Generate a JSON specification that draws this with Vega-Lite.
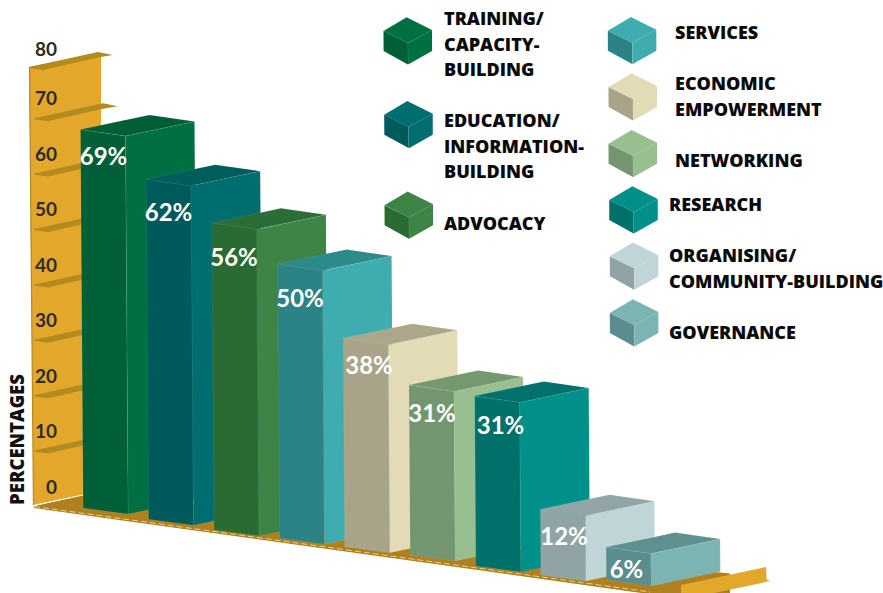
{
"$schema":"https://vega.github.io/schema/vega-lite/v6.json",
"width":883,"height":593,"padding":0,"autosize":{"type":"none"},
"background":"#ffffff",
"config":{"view":{"stroke":null}},
"datasets":{
"bars":[
{"category":"TRAINING/\nCAPACITY-\nBUILDING","value":69,"order":0},
{"category":"EDUCATION/\nINFORMATION-\nBUILDING","value":62,"order":1},
{"category":"ADVOCACY","value":56,"order":2},
{"category":"SERVICES","value":50,"order":3},
{"category":"ECONOMIC\nEMPOWERMENT","value":38,"order":4},
{"category":"NETWORKING","value":31,"order":5},
{"category":"RESEARCH","value":31,"order":6},
{"category":"ORGANISING/\nCOMMUNITY-BUILDING","value":12,"order":7},
{"category":"GOVERNANCE","value":6,"order":8}
],
"ticks":[{"tick":0},{"tick":10},{"tick":20},{"tick":30},{"tick":40},{"tick":50},{"tick":60},{"tick":70},{"tick":80}],
"pair":[{"part":"segment"}]
},
"encoding":{
"x":{"field":"x","type":"quantitative","scale":{"domain":[0,883],"nice":false,"zero":false},"axis":null},
"y":{"field":"y","type":"quantitative","scale":{"domain":[593,0],"nice":false,"zero":false},"axis":null,"stack":null}
},
"layer":[
{"data":{"name":"pair"},
"transform":[{"calculate":"[0,1,2]","as":"t"},{"flatten":["t"]},
{"calculate":"[29.3,33.5,101][datum.t]","as":"x"},{"calculate":"[67,66,53][datum.t]","as":"y"},{"calculate":"[67,505,491][datum.t]","as":"y2"}],
"mark":{"type":"area","color":"#E3A82B","orient":"vertical"},
"encoding":{"y2":{"field":"y2"}}},
{"data":{"name":"pair"},
"transform":[{"calculate":"[0,1]","as":"t"},{"flatten":["t"]},
{"calculate":"[29.5,33.5][datum.t]","as":"x"},{"calculate":"[67,505][datum.t]","as":"y"}],
"mark":{"type":"line","color":"#B38A1E","strokeWidth":1.2},"encoding":{}},
{"data":{"name":"ticks"},
"transform":[{"filter":"datum.tick>0"},
{"calculate":"datum.tick==80?29:34","as":"x0"},{"calculate":"datum.tick==80?67:506-5.54*datum.tick","as":"y0"},
{"calculate":"[0,1,2,3]","as":"t"},{"flatten":["t"]},
{"calculate":"datum.x0+[0,14,69,83.7][datum.t]","as":"x"},
{"calculate":"datum.y0+[0,-3,-15,-12][datum.t]","as":"y"},
{"calculate":"datum.y0+[1,3,-9.5,-12][datum.t]","as":"y2"}],
"mark":{"type":"area","color":"#B38A1E","orient":"vertical"},
"encoding":{"y2":{"field":"y2"},"detail":{"field":"tick"}}},
{"data":{"name":"pair"},
"transform":[{"calculate":"[0,1,2,3]","as":"t"},{"flatten":["t"]},
{"calculate":"[34,101,600,730][datum.t]","as":"x"},{"calculate":"[506,491,560,573.5][datum.t]","as":"y"},{"calculate":"[508,517.4,587.2,605.4][datum.t]","as":"y2"}],
"mark":{"type":"area","color":"#B0801E","orient":"vertical","clip":true},
"encoding":{"y2":{"field":"y2"}}},
{"data":{"name":"pair"},
"transform":[{"calculate":"[0,1,2,3]","as":"t"},{"flatten":["t"]},
{"calculate":"[681,766,766.5,770][datum.t]","as":"x"},{"calculate":"[585,567,579,581][datum.t]","as":"y"},{"calculate":"[600,582,581.5,581][datum.t]","as":"y2"}],
"mark":{"type":"area","color":"#E3A82B","orient":"vertical","clip":true},
"encoding":{"y2":{"field":"y2"}}},
{"data":{"name":"pair"},
"transform":[{"calculate":"[0,1]","as":"t"},{"flatten":["t"]},
{"calculate":"[34,650][datum.t]","as":"x"},{"calculate":"[506.5,592][datum.t]","as":"y"}],
"mark":{"type":"line","color":"#EBD9A8","strokeWidth":0.9,"strokeDash":[6,3]},"encoding":{}},
{"data":{"name":"pair"},
"transform":[{"calculate":"[0,1]","as":"t"},{"flatten":["t"]},
{"calculate":"[34,83][datum.t]","as":"x"},{"calculate":"[505.5,495][datum.t]","as":"y"}],
"mark":{"type":"line","color":"#ffffff","strokeWidth":1},"encoding":{}},
{"data":{"name":"bars"},
"transform":[
{"calculate":"80.5+65.7*datum.order","as":"xA"},
{"calculate":"5.485*datum.value","as":"h"},
{"calculate":"[508,519.3,530,538.3,546.7,555,566,575,580][datum.order]","as":"base"},
{"calculate":"datum.base-datum.h","as":"yA"},
{"calculate":"0.0071*datum.h","as":"dx"},
{"calculate":"[0,1,2]","as":"face"},{"flatten":["face"]},
{"calculate":"[0,1,2,3]","as":"t"},{"flatten":["t"]},
{"calculate":"datum.face==0?[datum.xA,datum.xA+datum.dx,datum.xA+45,datum.xA+45+datum.dx][datum.t]:datum.face==1?[datum.xA+45,datum.xA+45+datum.dx,datum.xA+114,datum.xA+114+datum.dx][datum.t]:datum.xA+[0,45,69,114][datum.t]","as":"x"},
{"calculate":"datum.face==0?[datum.yA,datum.yA+6.5*datum.dx/45,datum.yA+6.5,datum.base+6][datum.t]:datum.face==1?[datum.yA+6.5,datum.yA+6.5-14.5*datum.dx/69,datum.yA-8,datum.base-8.5][datum.t]:datum.yA+[0,-9.46,-14.5,-8][datum.t]","as":"y"},
{"calculate":"datum.face==0?[datum.yA,datum.base,datum.base+6*(45-datum.dx)/45,datum.base+6][datum.t]:datum.face==1?[datum.yA+6.5,datum.base+6,datum.base+6-14.5*(69-datum.dx)/69,datum.base-8.5][datum.t]:datum.yA+[0,6.5,1.46,-8][datum.t]","as":"y2"},
{"calculate":"datum.order+'-'+datum.face","as":"shade"}
],
"mark":{"type":"area","orient":"vertical","stroke":"#ffffff","strokeOpacity":0.12,"strokeWidth":0.6},
"encoding":{"y2":{"field":"y2"},
"color":{"field":"shade","type":"nominal","legend":null,
"scale":{"domain":["0-0","0-1","0-2","1-0","1-1","1-2","2-0","2-1","2-2","3-0","3-1","3-2","4-0","4-1","4-2","5-0","5-1","5-2","6-0","6-1","6-2","7-0","7-1","7-2","8-0","8-1","8-2"],
"range":["#005F37","#006F42","#005E36","#005A5C","#006D6E","#005E5A","#2A6B33","#3D8446","#2B6D36","#2B8385","#3FADB0","#2C8A8A","#A9A489","#E2DBB5","#ACA78A","#739570","#98BF90","#76986F","#00706B","#00908A","#00716C","#90A4A6","#BFD5D7","#91A5A7","#5C8D8E","#7CB4B4","#5F9090"]}}}},
{"data":{"name":"bars"},
"transform":[
{"calculate":"[408,408.7,409,632.3,633,633,633.7,634.3,634.3][datum.order]","as":"cx"},
{"calculate":"[43,126.7,217.3,42.7,99,155.7,212,268.3,325][datum.order]","as":"cy"},
{"calculate":"[0,1,2]","as":"face"},{"flatten":["face"]},
{"calculate":"[0,1,2,3]","as":"t"},{"flatten":["t"]},
{"calculate":"datum.cx+(datum.face==0?[-24.5,-24.4,-0.1,0][datum.t]:datum.face==1?[0,0.1,24,24.1][datum.t]:[-24.5,-1.3,0,24.1][datum.t])","as":"x"},
{"calculate":"datum.cy+(datum.face==0?[-12,-11.9,0,21.5][datum.t]:datum.face==1?[0,0,-13,8][datum.t]:[-12,-25.7,-25,-13][datum.t])","as":"y"},
{"calculate":"datum.cy+(datum.face==0?[-12,8,21.4,21.5][datum.t]:datum.face==1?[0,21.5,8,8][datum.t]:[-12,-0.5,0,-13][datum.t])","as":"y2"},
{"calculate":"datum.order+'-'+(datum.face==0?0:1)","as":"shade"}
],
"mark":{"type":"area","orient":"vertical"},
"encoding":{"y2":{"field":"y2"},"detail":{"field":"face"},
"color":{"field":"shade","type":"nominal","legend":null}}},
{"data":{"name":"ticks"},
"transform":[{"calculate":"57","as":"x"},{"calculate":"datum.tick==80?50:487.7-5.55*datum.tick","as":"y"}],
"mark":{"type":"text","align":"right","baseline":"middle","font":"Lato","fontWeight":700,"fontSize":19,"color":"#2B2B2B"},
"encoding":{"text":{"field":"tick","type":"nominal"}}},
{"data":{"name":"pair"},
"transform":[{"calculate":"18","as":"x"},{"calculate":"439.5","as":"y"},{"calculate":"'PERCENTAGES'","as":"label"}],
"mark":{"type":"text","align":"center","baseline":"middle","angle":270,"font":"Open Sans","fontWeight":800,"fontSize":18.5,"color":"#111111"},
"encoding":{"text":{"field":"label"}}},
{"data":{"name":"bars"},
"transform":[
{"calculate":"[103.5,168.5,234,300,369,432,500.5,564,626.5][datum.order]","as":"x"},
{"calculate":"[158,213.7,258.7,300.3,367,415,427,538,571.3][datum.order]","as":"y"},
{"calculate":"datum.value+'%'","as":"label"}],
"mark":{"type":"text","align":"center","baseline":"middle","font":"Lato","fontWeight":700,"fontSize":24,"color":"#ffffff"},
"encoding":{"text":{"field":"label"}}},
{"data":{"name":"bars"},
"transform":[
{"calculate":"[444,444,444,675,675,675,669,669,669][datum.order]","as":"x"},
{"calculate":"[20,122,225,34,85,162,206,257,333.7][datum.order]","as":"y"}],
"mark":{"type":"text","align":"left","baseline":"middle","font":"Open Sans","fontWeight":800,"fontSize":18,"color":"#0A0A0A","lineBreak":"\n","lineHeight":25.7},
"encoding":{"text":{"field":"category"}}}
]
}
